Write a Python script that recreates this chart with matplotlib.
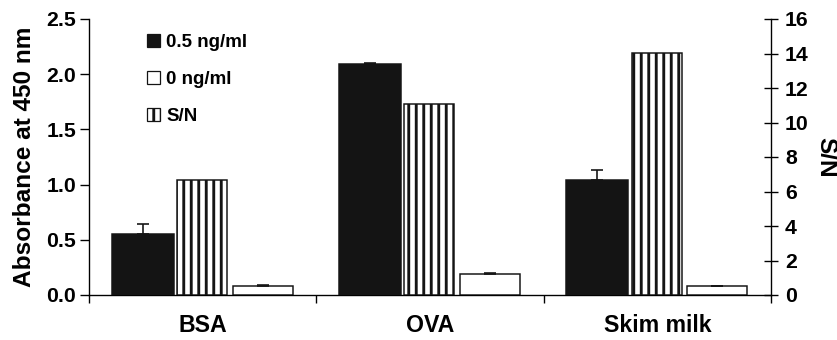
import numpy as np
import matplotlib
matplotlib.use('Agg')
import matplotlib.pyplot as plt
from matplotlib.patches import Patch

# данные
categories = ['BSA', 'OVA', 'Skim milk']
abs_05 = [0.55, 2.095, 1.04]        # 0.5 ng/ml
abs_05_err = [0.09, 0.005, 0.09]
abs_0 = [0.08, 0.187, 0.08]         # 0 ng/ml
abs_0_err = [0.012, 0.013, 0.006]
sn = [6.65, 11.05, 14.05]           # S/N

plt.rcParams['font.family'] = 'Liberation Sans'
plt.rcParams['font.weight'] = 'bold'
plt.rcParams['hatch.linewidth'] = 2.3
plt.rcParams['hatch.color'] = '#141414'

dpi = 90
fig = plt.figure(figsize=(837 / dpi, 340 / dpi), dpi=dpi)
ax = fig.add_axes([89 / 837, 45 / 340, (771 - 89) / 837, (295 - 19) / 340])
ax2 = ax.twinx()

x = np.arange(len(categories)) + 0.5
dark = '#141414'

ax.bar(x - 0.264, abs_05, width=0.273, color=dark, edgecolor=dark, linewidth=1.2,
       yerr=[np.zeros(3), abs_05_err], error_kw=dict(ecolor=dark, elinewidth=1.3, capsize=5, capthick=1.3),
       zorder=3)
ax.bar(x + 0.264, abs_0, width=0.264, color='white', edgecolor=dark, linewidth=1.2,
       yerr=[np.zeros(3), abs_0_err], error_kw=dict(ecolor=dark, elinewidth=1.3, capsize=5, capthick=1.3),
       zorder=3)
ax2.bar(x - 0.003, sn, width=0.22, color='white', edgecolor=dark, linewidth=1.2, hatch='||', zorder=3)

ax.set_xlim(0, 3)
ax.set_ylim(0, 2.5)
ax2.set_ylim(0, 16)

ax.set_yticks([0, 0.5, 1.0, 1.5, 2.0, 2.5])
ax.set_yticklabels(['0.0', '0.5', '1.0', '1.5', '2.0', '2.5'])
ax2.set_yticks(range(0, 17, 2))

ax.set_xticks([0, 1, 2, 3])
ax.set_xticklabels([])
ax.set_xticks(x, minor=True)
ax.set_xticklabels(categories, minor=True, fontsize=18.5, fontweight='bold')
ax.tick_params(axis='x', which='minor', length=0, pad=15)
ax.tick_params(axis='x', which='major', direction='out', length=6.5, width=1.1)
ax.tick_params(axis='y', direction='out', length=7.5, width=1.1, labelsize=17, pad=3)
ax2.tick_params(axis='y', direction='inout', length=10.5, width=1.1, labelsize=17, pad=6)

for a in (ax, ax2):
    a.spines['top'].set_visible(False)
    for s in a.spines.values():
        s.set_linewidth(1.1)
ax.spines['right'].set_visible(False)
ax2.spines['left'].set_visible(False)
ax2.spines['bottom'].set_visible(False)

ax.set_ylabel('Absorbance at 450 nm', fontsize=19.5, fontweight='bold')
ax.yaxis.set_label_coords(-0.078, 0.5)
ax2.set_ylabel('S/N', fontsize=19.5, fontweight='bold', rotation=270, va='center')
ax2.yaxis.set_label_coords(1.081, 0.5)

handles = [Patch(facecolor=dark, edgecolor=dark, label='0.5 ng/ml'),
           Patch(facecolor='white', edgecolor=dark, label='0 ng/ml'),
           Patch(facecolor='white', edgecolor=dark, hatch='||', label='S/N')]
ax2.legend(handles=handles, loc='upper left', bbox_to_anchor=(0.071, 0.98), frameon=False,
           borderpad=0, handlelength=0.7, handleheight=0.7, handletextpad=0.35, labelspacing=1.07,
           prop=dict(size=15, weight='bold'))

fig.savefig('out.png', dpi=dpi)
